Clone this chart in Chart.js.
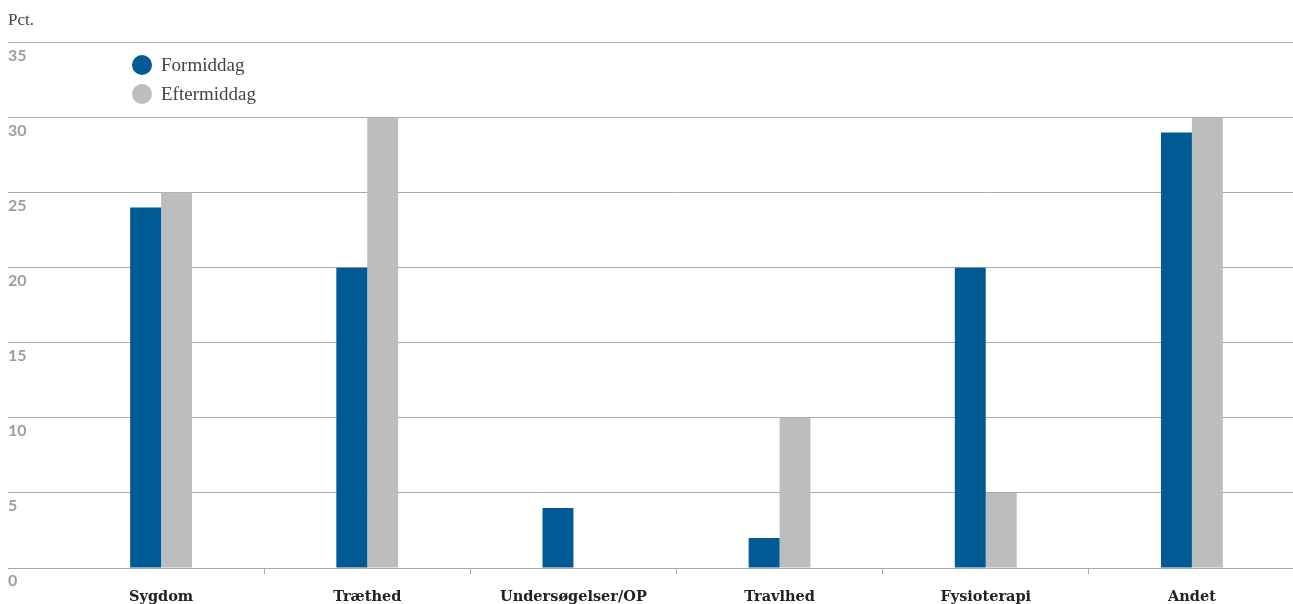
<!DOCTYPE html>
<html>
<head>
<meta charset="utf-8">
<script src="https://cdn.jsdelivr.net/npm/chart.js@4.4.1/dist/chart.umd.min.js"></script>
<style>
html,body{margin:0;padding:0;background:#fff;overflow:hidden;}
#wrap{position:relative;width:1295px;height:604px;}
#legend{position:absolute;left:132px;top:50px;font-family:"Liberation Serif",serif;font-size:19px;color:#444;}
#legend div{display:flex;align-items:center;height:29px;}
#legend span.dot{display:inline-block;width:20px;height:20px;border-radius:50%;margin-right:9px;}
</style>
</head>
<body>
<div id="wrap">
<canvas id="chart" width="1295" height="604"></canvas>
<div id="legend"></div>
</div>
<script>
// Data

const categories=["Sygdom","Træthed","Undersøgelser/OP","Travlhed","Fysioterapi","Andet"];
const formiddag=[24,20,4,2,20,29];
const eftermiddag=[25,30,0,10,5,30];
const seriesNames=["Formiddag","Eftermiddag"];
const colors=["#005a94","#bcbdbf"];

const gridColor="#a9a9a9";

new Chart(
document.getElementById("chart"),
{
type:"bar",
data:{
labels:categories,
datasets:[
{label:seriesNames[0],data:formiddag,backgroundColor:colors[0]},
{label:seriesNames[1],data:eftermiddag,backgroundColor:colors[1]}
]
},
options:{
responsive:false,
animation:false,
layout:{padding:{left:8,right:0,top:0,bottom:0}},
datasets:{bar:{categoryPercentage:0.3,barPercentage:1}},
plugins:{
legend:{display:false},
tooltip:{enabled:false},
title:{
display:true,
text:"Pct.",
align:"start",
color:"#444",
font:{family:"Liberation Serif",size:17,weight:"normal",lineHeight:1.2},
padding:{top:10,bottom:12}
}
},
scales:{
x:{
grid:{
drawOnChartArea:false,
drawTicks:true,
tickLength:6,
offset:true,
color:(ctx)=>ctx.index===0?"rgba(0,0,0,0)":gridColor
},
border:{display:false},
ticks:{
color:"#222",
padding:15,
font:{family:"DejaVu Serif",size:14.5,weight:"bold",lineHeight:1.2}
},
afterFit:(scale)=>{scale.height=36;}
},
y:{
min:0,
max:35,
border:{display:false},
grid:{color:gridColor,lineWidth:1,drawTicks:true,tickLength:50},
ticks:{
stepSize:5,
crossAlign:"far",
labelOffset:13,
padding:0,
color:"#9d9d9d",
font:{family:"Lato",size:16,weight:"bold"}
},
afterFit:(scale)=>{scale.width=50;}
}
}
}
}
);

// HTML legend

const legend=document.getElementById("legend");
seriesNames.forEach((name,i)=>{
let row=document.createElement("div");
let dot=document.createElement("span");
dot.className="dot";
dot.style.background=colors[i];
row.appendChild(dot);
row.appendChild(document.createTextNode(name));
legend.appendChild(row);
});
</script>
</body>
</html>
